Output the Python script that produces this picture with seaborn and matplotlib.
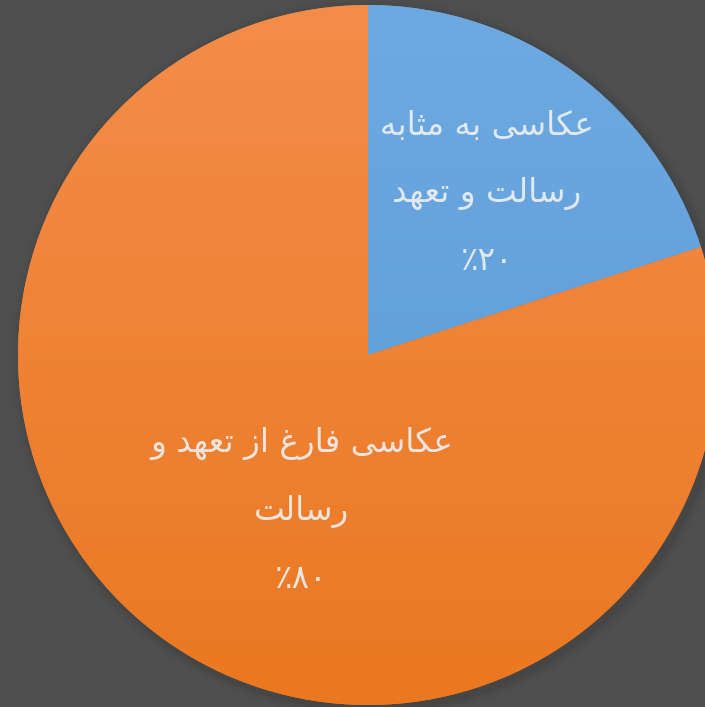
import re
import numpy as np
import matplotlib
matplotlib.use("Agg")
import matplotlib.pyplot as plt
import seaborn as sns
from matplotlib.colors import LinearSegmentedColormap
from matplotlib.patches import Circle

# ---------------- data ----------------
categories = ["عکاسی به مثابه رسالت و تعهد", "عکاسی فارغ از تعهد و رسالت"]
values = [20, 80]
label_lines = [["عکاسی به مثابه", "رسالت و تعهد"],
               ["عکاسی فارغ از تعهد و", "رسالت"]]
pct_labels = ["۲۰٪", "۸۰٪"]
base_colors = ["#5b9bd5", "#ed7d31"]
top_colors = ["#6eaae2", "#f48d4a"]
bottom_colors = ["#5898d4", "#ea7820"]

# ---------- minimal Arabic/Persian shaping for display ----------
FORMS = {  # isolated, final, initial, medial
    'ا': ('\uFE8D', '\uFE8E', None, None),
    'ب': ('\uFE8F', '\uFE90', '\uFE91', '\uFE92'),
    'ت': ('\uFE95', '\uFE96', '\uFE97', '\uFE98'),
    'ث': ('\uFE99', '\uFE9A', '\uFE9B', '\uFE9C'),
    'د': ('\uFEA9', '\uFEAA', None, None),
    'ر': ('\uFEAD', '\uFEAE', None, None),
    'ز': ('\uFEAF', '\uFEB0', None, None),
    'س': ('\uFEB1', '\uFEB2', '\uFEB3', '\uFEB4'),
    'ع': ('\uFEC9', '\uFECA', '\uFECB', '\uFECC'),
    'غ': ('\uFECD', '\uFECE', '\uFECF', '\uFED0'),
    'ف': ('\uFED1', '\uFED2', '\uFED3', '\uFED4'),
    'ل': ('\uFEDD', '\uFEDE', '\uFEDF', '\uFEE0'),
    'م': ('\uFEE1', '\uFEE2', '\uFEE3', '\uFEE4'),
    'ه': ('\uFEE9', '\uFEEA', '\uFEEB', '\uFEEC'),
    'و': ('\uFEED', '\uFEEE', None, None),
    'ک': ('\uFB8E', '\uFB8F', '\uFB90', '\uFB91'),
    'ی': ('\uFBFC', '\uFBFD', '\uFBFE', '\uFBFF'),
}


def dual(c):
    return c in FORMS and FORMS[c][2] is not None


def shape(text):
    out = []
    for i, c in enumerate(text):
        if c not in FORMS:
            out.append(c)
            continue
        prev = text[i - 1] if i > 0 else ''
        nxt = text[i + 1] if i + 1 < len(text) else ''
        jp = dual(prev)
        jn = dual(c) and nxt in FORMS
        iso, fin, ini, med = FORMS[c]
        if jp and jn:
            out.append(med)
        elif jp:
            out.append(fin)
        elif jn:
            out.append(ini)
        else:
            out.append(iso)
    vis = ''.join(out)[::-1]
    return re.sub(r'[۰-۹0-9]+', lambda m: m.group(0)[::-1], vis)


# ---------------- figure ----------------
sns.set_style("dark")
plt.rcParams['font.family'] = ['DejaVu Sans']
bg = "#4f4f4f"
fig = plt.figure(figsize=(7.05, 7.07), dpi=100, facecolor=bg)
ax = fig.add_axes([0, 0, 1, 1])
ax.set_facecolor(bg)

R = 350.0
cx, cy = 368.0, 707.0 - 355.0
ax.set_xlim(-cx / R, (705 - cx) / R)
ax.set_ylim(-cy / R, (707 - cy) / R)
ax.set_aspect('equal')
ax.axis('off')

# soft shadow
for k, a in [(1.03, 0.05), (1.02, 0.08), (1.01, 0.12)]:
    ax.add_patch(Circle((0.01, -0.01), k, color='#2e2e2e', alpha=a, lw=0, zorder=0))

wedges, _ = ax.pie(values, colors=base_colors, startangle=90, counterclock=False,
                   radius=1.0, wedgeprops=dict(linewidth=0))
for w in wedges:
    w.set_zorder(1)

grad = np.linspace(0, 1, 256).reshape(-1, 1)
for w, tc, bc in zip(wedges, top_colors, bottom_colors):
    cmap = LinearSegmentedColormap.from_list('g', [bc, tc])
    im = ax.imshow(grad, cmap=cmap, origin='lower', extent=[-1, 1, -1, 1],
                   aspect='auto', zorder=2)
    im.set_clip_path(w)
ax.set_xlim(-cx / R, (705 - cx) / R)
ax.set_ylim(-cy / R, (707 - cy) / R)

# labels
txt_color = '#eceef0'
fs = 23.5
label_pos = [(0.34, 0.462), (-0.19, -0.447)]
line_gap = 0.193
for (x0, y0), lines, pct in zip(label_pos, label_lines, pct_labels):
    all_lines = lines + [pct]
    for j, ln in enumerate(all_lines):
        ax.text(x0, y0 - (j - 1) * line_gap, shape(ln), ha='center', va='center',
                fontsize=fs, color=txt_color, alpha=0.92, zorder=5)

fig.savefig('out.png', dpi=100, facecolor=bg)
